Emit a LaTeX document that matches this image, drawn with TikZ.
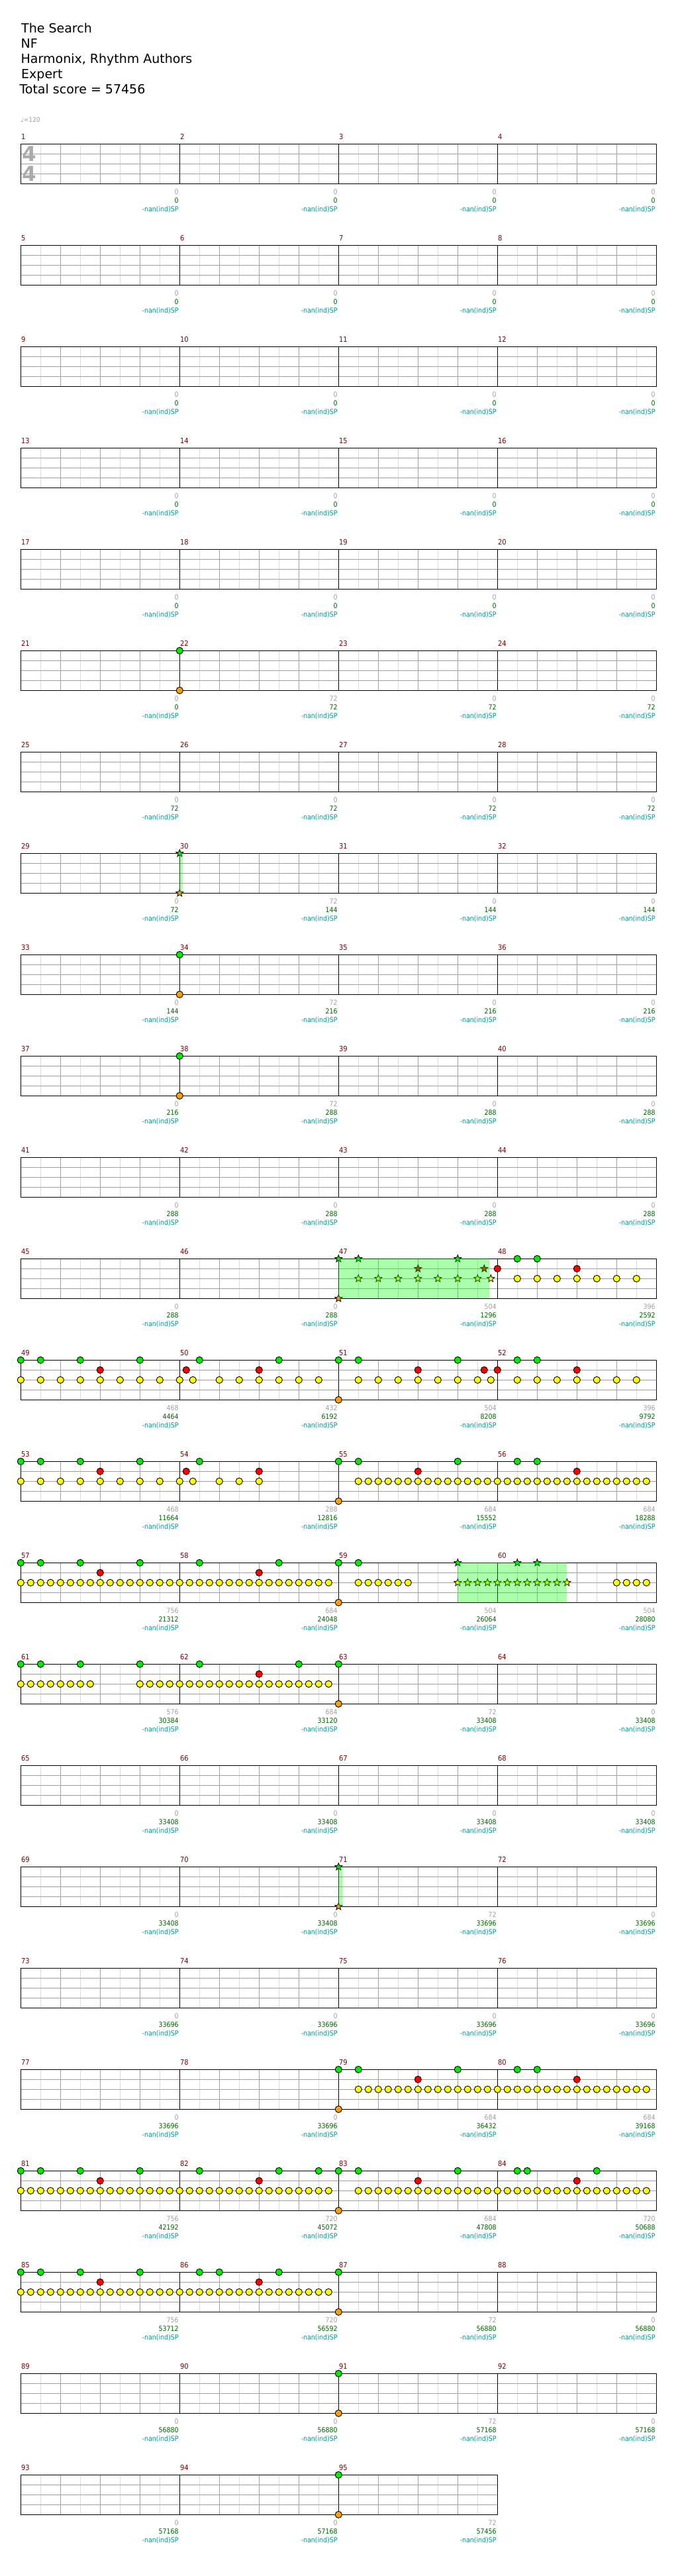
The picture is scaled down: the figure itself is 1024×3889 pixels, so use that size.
\documentclass[tikz,border=0pt]{standalone}
\usepackage{fontspec}
\setmainfont{DejaVu Sans}
\newfontfamily\notefont{DejaVu Sans}
\IfFontExistsTF{DejaVu Sans Condensed}
  {\newfontfamily\labfont{DejaVu Sans Condensed}}
  {\newfontfamily\labfont[FakeStretch=0.9]{DejaVu Sans}}

\definecolor{barred}{RGB}{128,0,0}
\definecolor{scoregray}{RGB}{160,160,160}
\definecolor{scoregreen}{RGB}{0,100,0}
\definecolor{spteal}{RGB}{0,150,150}
\definecolor{beatgray}{RGB}{160,160,160}
\definecolor{halfgray}{RGB}{220,220,220}
\definecolor{sigray}{RGB}{170,170,170}
\definecolor{notegreen}{RGB}{0,235,0}
\definecolor{notered}{RGB}{255,0,0}
\definecolor{noteyellow}{RGB}{255,255,0}
\definecolor{noteorange}{RGB}{255,160,0}
\definecolor{spgreen}{RGB}{0,255,0}

\tikzset{
  rowat/.style={shift={(31.3,217.3+153*#1)}},
  halfline/.style={draw=halfgray, line width=1pt},
  beatline/.style={draw=beatgray, line width=1pt},
  barline/.style={draw=black, line width=1pt},
  barnum/.style={anchor=base west, inner sep=0pt, text=barred, font=\labfont\fontsize{11}{12}\selectfont},
  scorenum/.style={anchor=base east, inner sep=0pt, text=scoregray, font=\labfont\fontsize{10.5}{12}\selectfont},
  scoretot/.style={anchor=base east, inner sep=0pt, text=scoregreen, font=\labfont\fontsize{10.5}{12}\selectfont},
  scoresp/.style={anchor=base east, inner sep=0pt, text=spteal, font=\labfont\fontsize{10.5}{12}\selectfont},
  headline/.style={anchor=base west, inner sep=0pt, font=\fontsize{19}{23}\selectfont},
  timesig/.style={inner sep=0pt, text=sigray, font=\bfseries\fontsize{31}{31}\selectfont},
  spzone/.style={fill=spgreen, fill opacity=0.33},
}

% gems on one line of a row: colour, line, offsets
\newcommand{\gems}[3]{\foreach \x in {#3} \draw[fill=#1, line width=0.9pt] (\x,#2) circle (5.1);}
% star power gems
\newcommand{\stars}[3]{\foreach \x in {#3}
  \draw[fill=#1, line width=0.8pt, shift={(\x,#2)}] (-90:5.8) -- (-54:2.5) -- (-18:5.8) -- (18:2.5)
    -- (54:5.8) -- (90:2.5) -- (126:5.8) -- (162:2.5) -- (198:5.8) -- (234:2.5) -- cycle;}
% score under a bar line
\newcommand{\barscore}[3]{%
  \node[scorenum] (a\r-#1) at (240*#1-1.5,76) {#2};
  \node[scoretot] (b\r-#1) at (240*#1-1.5,88.7) {#3};
  \node[scoresp] (c\r-#1) at (240*#1-1.5,101.7) {-nan(ind)SP};}

\begin{document}
\begin{tikzpicture}[x=1pt,y=-1pt]
  \fill[white] (0,0) rectangle (1024,3889);
  \useasboundingbox (0,0) rectangle (1024,3889);

  % header
  \node[headline] (title) at (32,49.3) {The Search};
  \node[headline] (artist) at (31.5,72.3) {NF};
  \node[headline] (charter) at (31.5,95.3) {Harmonix, Rhythm Authors};
  \node[headline] (level) at (32,118.3) {Expert};
  \node[headline] (total) at (29.3,141.3) {Total score = 57456};
  \node[anchor=base west, inner sep=0pt, text=scoregray, font=\labfont\fontsize{10}{12}\selectfont] (tempo) at (31,184.3) {{\notefont ♩}=120};

  % staves
  \foreach \r in {0,...,23}{
    \ifnum\r=23 \def\w{720}\def\nb{2}\else\def\w{960}\def\nb{3}\fi
    \begin{scope}[rowat=\r]
      \foreach \x in {30,90,...,\w} \draw[halfline] (\x,0) -- (\x,60);
      \foreach \x in {60,120,...,\w} \draw[beatline] (\x,0) -- (\x,60);
      \foreach \y in {15,30,45} \draw[beatline] (0,\y) -- (\w,\y);
      \foreach \k in {0,...,\nb}{
        \pgfmathtruncatemacro\num{4*\r+\k+1}
        \draw[barline] (240*\k,0) -- (240*\k,60);
        \node[barnum] (n\num) at (240*\k+0.5,-7) {\num};
      }
      \draw[barline] (0,0) rectangle (\w,60);
    \end{scope}
  }
  \node[timesig] (sigtop) at (44.3,232.5) {4};
  \node[timesig] (sigbot) at (44.3,262.5) {4};

  % scores
  \foreach \r/\la/\lb/\lc/\ld/\le/\lf/\lg/\lh in {
      0/0/0/0/0/0/0/0/0, 1/0/0/0/0/0/0/0/0, 2/0/0/0/0/0/0/0/0, 3/0/0/0/0/0/0/0/0,
      4/0/0/0/0/0/0/0/0, 5/0/0/72/72/0/72/0/72, 6/0/72/0/72/0/72/0/72,
      7/0/72/72/144/0/144/0/144, 8/0/144/72/216/0/216/0/216, 9/0/216/72/288/0/288/0/288,
      10/0/288/0/288/0/288/0/288, 11/0/288/0/288/504/1296/396/2592,
      12/468/4464/432/6192/504/8208/396/9792, 13/468/11664/288/12816/684/15552/684/18288,
      14/756/21312/684/24048/504/26064/504/28080, 15/576/30384/684/33120/72/33408/0/33408,
      16/0/33408/0/33408/0/33408/0/33408, 17/0/33408/0/33408/72/33696/0/33696,
      18/0/33696/0/33696/0/33696/0/33696, 19/0/33696/0/33696/684/36432/684/39168,
      20/756/42192/720/45072/684/47808/720/50688, 21/756/53712/720/56592/72/56880/0/56880,
      22/0/56880/0/56880/72/57168/0/57168}{
    \begin{scope}[rowat=\r]
      \barscore{1}{\la}{\lb}
      \barscore{2}{\lc}{\ld}
      \barscore{3}{\le}{\lf}
      \barscore{4}{\lg}{\lh}
    \end{scope}
  }
  \begin{scope}[rowat=23]
    \def\r{23}
    \barscore{1}{0}{57168}
    \barscore{2}{0}{57168}
    \barscore{3}{72}{57456}
  \end{scope}

  % measure 22
  \begin{scope}[rowat=5]
    \gems{notegreen}{0}{240}
    \gems{noteorange}{60}{240}
  \end{scope}
  % measure 30
  \begin{scope}[rowat=7]
    \stars{notegreen}{0}{240}
    \stars{noteorange}{60}{240}
    \fill[spzone] (240,0) rectangle (245,60);
  \end{scope}
  % measures 34, 38
  \foreach \r in {8,9}{
    \begin{scope}[rowat=\r]
      \gems{notegreen}{0}{240}
      \gems{noteorange}{60}{240}
    \end{scope}
  }
  % measures 47-48
  \begin{scope}[rowat=11]
    \stars{notegreen}{0}{480,510,660}
    \stars{notered}{15}{600,700}
    \stars{noteyellow}{30}{510,540,...,690}
    \stars{noteyellow}{30}{710}
    \stars{noteorange}{60}{480}
    \fill[spzone] (480,0) rectangle (708,60);
    \gems{notegreen}{0}{750,780}
    \gems{notered}{15}{720,840}
    \gems{noteyellow}{30}{750,780,...,930}
  \end{scope}
  % measures 49-52
  \begin{scope}[rowat=12]
    \gems{notegreen}{0}{0,30,90,180,270,390,480,510,660,750,780}
    \gems{notered}{15}{120,250,360,600,700,720,840}
    \gems{noteyellow}{30}{0,30,...,240}
    \gems{noteyellow}{30}{260,300,330,360,390,420,450}
    \gems{noteyellow}{30}{510,540,...,690}
    \gems{noteyellow}{30}{710,750,780,810,840,870,900,930}
    \gems{noteorange}{60}{480}
  \end{scope}
  % measures 53-56
  \begin{scope}[rowat=13]
    \gems{notegreen}{0}{0,30,90,180,270,480,510,660,750,780}
    \gems{notered}{15}{120,250,360,600,840}
    \gems{noteyellow}{30}{0,30,...,240}
    \gems{noteyellow}{30}{260,300,330,360}
    \gems{noteyellow}{30}{510,525,...,945}
    \gems{noteorange}{60}{480}
  \end{scope}
  % measures 57-60
  \begin{scope}[rowat=14]
    \gems{notegreen}{0}{0,30,90,180,270,390,480,510}
    \gems{notered}{15}{120,360}
    \gems{noteyellow}{30}{0,15,...,465}
    \gems{noteyellow}{30}{510,525,...,585}
    \gems{noteyellow}{30}{900,915,930,945}
    \gems{noteorange}{60}{480}
    \stars{notegreen}{0}{660,750,780}
    \stars{noteyellow}{30}{660,675,...,825}
    \fill[spzone] (660,0) rectangle (825,60);
  \end{scope}
  % measures 61-62
  \begin{scope}[rowat=15]
    \gems{notegreen}{0}{0,30,90,180,270,420,480}
    \gems{notered}{15}{360}
    \gems{noteyellow}{30}{0,15,...,105}
    \gems{noteyellow}{30}{180,195,...,465}
    \gems{noteorange}{60}{480}
  \end{scope}
  % measure 71
  \begin{scope}[rowat=17]
    \stars{notegreen}{0}{480}
    \stars{noteorange}{60}{480}
    \fill[spzone] (480,0) rectangle (485.5,60);
  \end{scope}
  % measures 79-80
  \begin{scope}[rowat=19]
    \gems{notegreen}{0}{480,510,660,750,780}
    \gems{notered}{15}{600,840}
    \gems{noteyellow}{30}{510,525,...,945}
    \gems{noteorange}{60}{480}
  \end{scope}
  % measures 81-84
  \begin{scope}[rowat=20]
    \gems{notegreen}{0}{0,30,90,180,270,390,450,480,510,660,750,765,870}
    \gems{notered}{15}{120,360,600,840}
    \gems{noteyellow}{30}{0,15,...,465}
    \gems{noteyellow}{30}{510,525,...,945}
    \gems{noteorange}{60}{480}
  \end{scope}
  % measures 85-87
  \begin{scope}[rowat=21]
    \gems{notegreen}{0}{0,30,90,180,270,300,390,480}
    \gems{notered}{15}{120,360}
    \gems{noteyellow}{30}{0,15,...,465}
    \gems{noteorange}{60}{480}
  \end{scope}
  % measures 91, 95
  \foreach \r in {22,23}{
    \begin{scope}[rowat=\r]
      \gems{notegreen}{0}{480}
      \gems{noteorange}{60}{480}
    \end{scope}
  }
\end{tikzpicture}
\end{document}
